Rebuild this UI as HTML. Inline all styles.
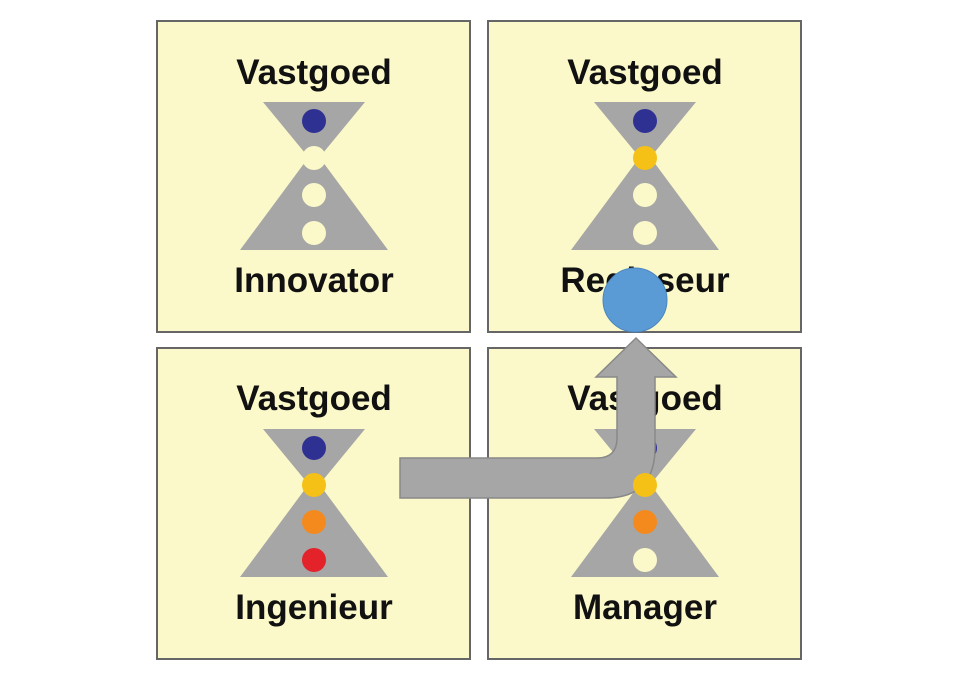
<!DOCTYPE html>
<html><head><meta charset="utf-8"><style>
html,body{margin:0;padding:0;background:#fff;}
svg{display:block;}
text{font-family:"Liberation Sans",Arial,sans-serif;font-weight:bold;font-size:35px;fill:#111;text-anchor:middle;}
</style></head><body>
<svg width="960" height="675" viewBox="0 0 960 675" xmlns="http://www.w3.org/2000/svg">
<defs>
<g id="hg">
<polygon points="-51,0 51,0 0,62" fill="#a6a6a6"/>
<polygon points="0,48 74,148 -74,148" fill="#a6a6a6"/>
</g>
</defs>
<g stroke="#666" stroke-width="2" fill="#fbf9c9">
<rect x="157" y="21" width="313" height="311"/>
<rect x="488" y="21" width="313" height="311"/>
<rect x="157" y="348" width="313" height="311"/>
<rect x="488" y="348" width="313" height="311"/>
</g>
<!-- TL -->
<use href="#hg" x="314" y="102"/>
<circle cx="314" cy="121" r="12" fill="#2e3192"/>
<circle cx="314" cy="158" r="12" fill="#fbf9c9"/>
<circle cx="314" cy="195" r="12" fill="#fbf9c9"/>
<circle cx="314" cy="233" r="12" fill="#fbf9c9"/>
<text x="314" y="84">Vastgoed</text>
<text x="314" y="292">Innovator</text>
<!-- TR -->
<use href="#hg" x="645" y="102"/>
<circle cx="645" cy="121" r="12" fill="#2e3192"/>
<circle cx="645" cy="158" r="12" fill="#f5c116"/>
<circle cx="645" cy="195" r="12" fill="#fbf9c9"/>
<circle cx="645" cy="233" r="12" fill="#fbf9c9"/>
<text x="645" y="84">Vastgoed</text>
<text x="645" y="292">Regisseur</text>
<!-- BL -->
<use href="#hg" x="314" y="429"/>
<circle cx="314" cy="448" r="12" fill="#2e3192"/>
<circle cx="314" cy="485" r="12" fill="#f5c116"/>
<circle cx="314" cy="522" r="12" fill="#f48a1e"/>
<circle cx="314" cy="560" r="12" fill="#e3222a"/>
<text x="314" y="410">Vastgoed</text>
<text x="314" y="619">Ingenieur</text>
<!-- BR -->
<use href="#hg" x="645" y="429"/>
<circle cx="645" cy="448" r="12" fill="#2e3192"/>
<text x="645" y="410">Vastgoed</text>
<text x="645" y="619">Manager</text>
<!-- arrow -->
<path d="M400,458 H597 Q617,458 617,438 V377 H596 L636,338 L676,377 H655 V448 Q655,498 605,498 H400 Z" fill="#a6a6a6" stroke="#888" stroke-width="1.5"/>
<circle cx="645" cy="485" r="12" fill="#f5c116"/>
<circle cx="645" cy="522" r="12" fill="#f48a1e"/>
<circle cx="645" cy="560" r="12" fill="#fbf9c9"/>
<circle cx="635" cy="300" r="32" fill="#5b9bd5" stroke="#4a86c0" stroke-width="1"/>
</svg>
</body></html>
